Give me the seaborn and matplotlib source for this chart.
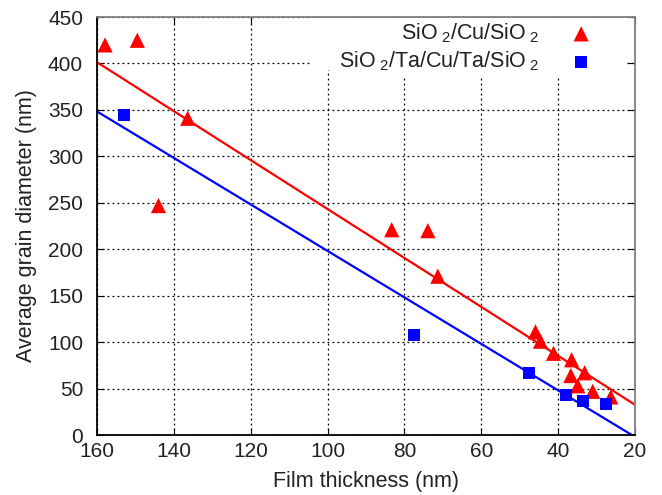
import numpy as np
import pandas as pd
import matplotlib
matplotlib.use('Agg')
import matplotlib.pyplot as plt
from matplotlib.patches import Rectangle
import seaborn as sns

# values
cu_thickness = [157.9, 149.5, 136.4, 144.0, 83.3, 73.9, 71.3, 45.9, 44.6, 41.2,
                36.5, 36.7, 33.1, 34.9, 31.0, 26.3]
cu_diameter = [420, 425, 341, 247, 221, 220, 171, 111, 101, 88,
               81, 64, 67, 53, 47, 41]
ta_thickness = [152.9, 77.6, 47.7, 38.0, 33.6, 27.6]
ta_diameter = [344, 108, 67, 43, 37, 33]

cu_label = 'SiO$_{\\ 2}$/Cu/SiO$_{\\ 2}$'
ta_label = 'SiO$_{\\ 2}$/Ta/Cu/Ta/SiO$_{\\ 2}$'

sns.set_style('ticks')
plt.rcParams['font.family'] = ['Liberation Sans', 'DejaVu Sans']
plt.rcParams['mathtext.fontset'] = 'custom'
plt.rcParams['mathtext.rm'] = 'Liberation Sans'
plt.rcParams['mathtext.it'] = 'Liberation Sans'

cu = pd.DataFrame({'t': cu_thickness, 'd': cu_diameter})
ta = pd.DataFrame({'t': ta_thickness, 'd': ta_diameter})

fig = plt.figure(figsize=(6.62, 4.95), dpi=100)
ax = fig.add_axes([0.1465, 0.1212, 0.8127, 0.8444])

# linear fits drawn across the whole range
xs = np.array([160, 20])
for df, col in [(cu, '#ff0000'), (ta, '#0000ff')]:
    k, b = np.polyfit(df['t'], df['d'], 1)
    ax.plot(xs, k * xs + b, color=col, lw=1.6, zorder=2)

sns.scatterplot(data=cu, x='t', y='d', marker='^', s=120, color='#ff0000',
                edgecolor='none', label=cu_label, ax=ax, zorder=3)
sns.scatterplot(data=ta, x='t', y='d', marker='s', s=75, color='#0000ff',
                edgecolor='none', label=ta_label, ax=ax, zorder=3)

ax.set_xlim(160, 20)
ax.set_ylim(0, 450)
ax.set_xticks(np.arange(160, 19, -20))
ax.set_yticks(np.arange(0, 451, 50))
ax.grid(True, color='black', linestyle=(0, (1.5, 2.5)), linewidth=0.9)
ax.tick_params(direction='in', top=True, right=True, labelsize=15,
               length=5, color='black', labelcolor='#222222')
ax.tick_params(axis='y', pad=10)
ax.tick_params(axis='x', pad=5)
for side, sp in ax.spines.items():
    sp.set_color('black' if side in ('left', 'bottom') else '#808080')
    sp.set_linewidth(1.3)

ax.set_xlabel('Film thickness (nm)', fontsize=15.5, color='#222222', labelpad=7)
ax.set_ylabel('Average grain diameter (nm)', fontsize=15.5, color='#222222', labelpad=8)

# opaque key area like gnuplot (hides the grid behind the key)
ax.add_patch(Rectangle((0.396, 0.873), 0.585, 0.125, transform=ax.transAxes,
                       facecolor='white', edgecolor='none', zorder=2.6))

leg = ax.legend(loc='upper right', bbox_to_anchor=(0.98, 0.997), markerfirst=False,
                frameon=True, fontsize=15.5, handlelength=3.7, handletextpad=0.1,
                borderpad=0.15, borderaxespad=0.0, labelspacing=0.2, fancybox=False)
leg.get_frame().set_edgecolor('none')
leg.get_frame().set_facecolor('white')
leg.get_frame().set_alpha(1)
leg.set_zorder(4)
for t in leg.get_texts():
    t.set_ha('right')
    t.set_color('#222222')

fig.savefig('out.png', dpi=100)
